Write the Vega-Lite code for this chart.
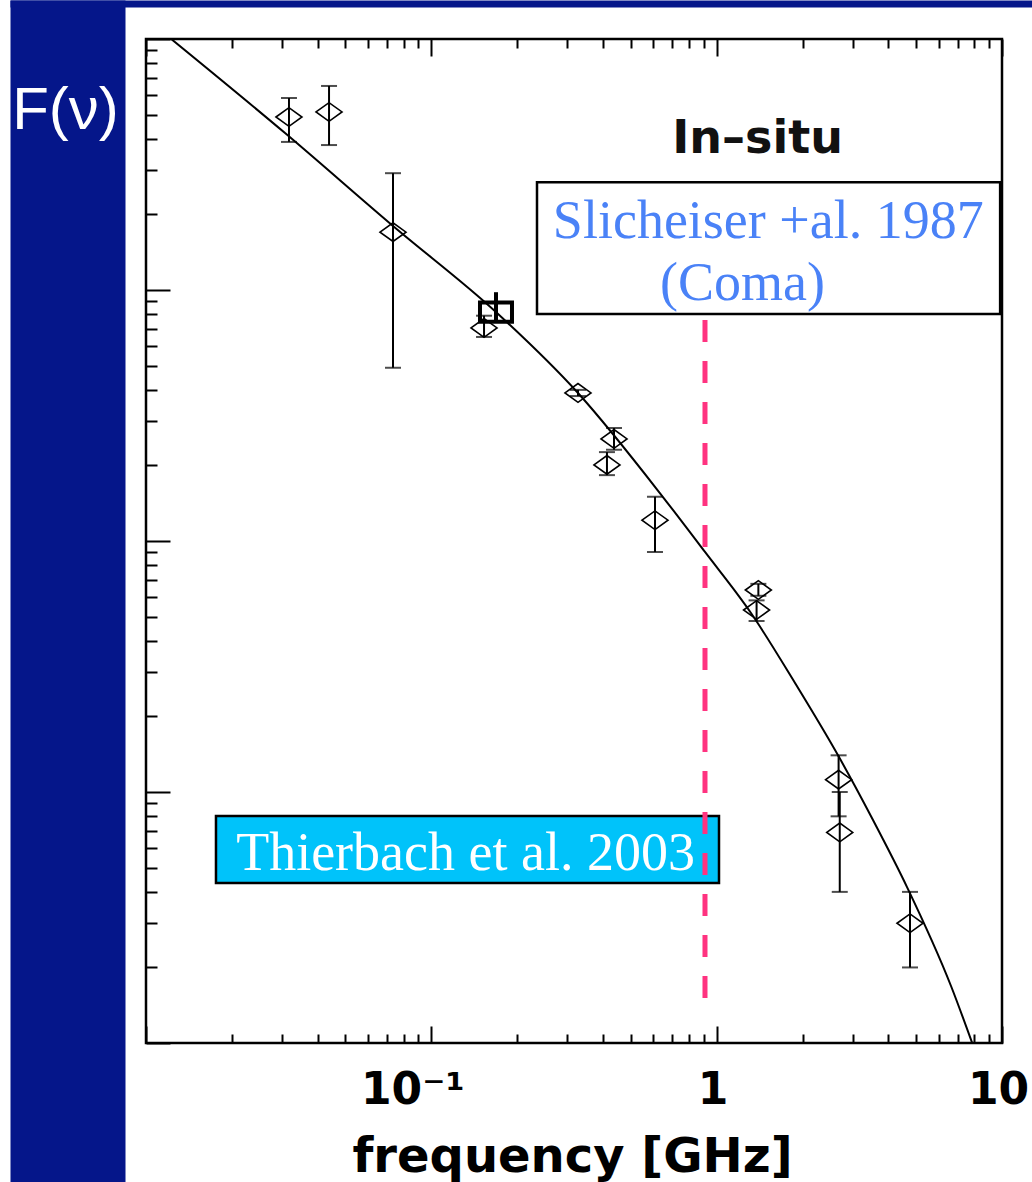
{
  "$schema": "https://vega.github.io/schema/vega-lite/v6.json",
  "width": 856,
  "height": 1004,
  "autosize": {"type": "none"},
  "padding": {"left": 146, "top": 39, "right": 30, "bottom": 139},
  "background": "white",
  "config": {
    "view": {"stroke": "black", "strokeWidth": 2.5},
    "axis": {"grid": false, "domain": false}
  },
  "resolve": {"axis": {"x": "independent", "y": "independent"}},
  "datasets": {
    "curve": [
      {"f": 0.01214, "F": 100.9},
      {"f": 0.03071, "F": 42.2},
      {"f": 0.0734, "F": 17.99},
      {"f": 0.1699, "F": 8.10},
      {"f": 0.3266, "F": 3.887},
      {"f": 0.6483, "F": 1.497},
      {"f": 0.9101, "F": 0.9042},
      {"f": 1.319, "F": 0.5165},
      {"f": 1.882, "F": 0.2718},
      {"f": 2.684, "F": 0.1378},
      {"f": 3.531, "F": 0.0773},
      {"f": 4.647, "F": 0.0418},
      {"f": 6.627, "F": 0.01687},
      {"f": 7.978, "F": 0.00955}
    ],
    "points": [
      {"f": 0.0317, "F": 48.9, "lo": 38.9, "hi": 58.2},
      {"f": 0.0438, "F": 51.2, "lo": 37.8, "hi": 65.0},
      {"f": 0.0734, "F": 17.0, "lo": 4.9, "hi": 29.2},
      {"f": 0.153, "F": 7.06, "lo": 6.5, "hi": 7.9},
      {"f": 0.3266, "F": 3.89, "lo": 3.78, "hi": 4.0},
      {"f": 0.4126, "F": 2.01, "lo": 1.83, "hi": 2.26},
      {"f": 0.4368, "F": 2.55, "lo": 2.31, "hi": 2.82},
      {"f": 0.6079, "F": 1.21, "lo": 0.904, "hi": 1.5},
      {"f": 1.38, "F": 0.531, "lo": 0.48, "hi": 0.58},
      {"f": 1.40, "F": 0.638, "lo": 0.605, "hi": 0.675},
      {"f": 2.675, "F": 0.112, "lo": 0.08, "hi": 0.14},
      {"f": 2.70, "F": 0.069, "lo": 0.04, "hi": 0.10},
      {"f": 4.76, "F": 0.030, "lo": 0.02, "hi": 0.04}
    ],
    "square": [
      {"f": 0.1685, "F": 8.17, "lo": 7.46, "hi": 9.8}
    ],
    "boxes": [
      {"box": "slicheiser", "f1": 0.2346, "f2": 9.85, "Ftop": 26.9, "Fbot": 8.025},
      {"box": "thierbach", "f1": 0.01759, "f2": 1.019, "Ftop": 0.0802, "Fbot": 0.0434}
    ],
    "texts": [
      {"group": "insitu", "label": "In–situ", "f": 1.391, "F": 35.1},
      {"group": "slicheiser", "label": "Slicheiser +al. 1987", "f": 1.517, "F": 16.11},
      {"group": "slicheiser", "label": "(Coma)", "f": 1.231, "F": 9.125},
      {"group": "thierbach", "label": "Thierbach et al. 2003", "f": 0.1318, "F": 0.04889}
    ],
    "cutoff": [
      {"f": 0.9101, "Ftop": 7.6, "Fbot": 0.0138}
    ]
  },
  "layer": [
    {
      "data": {"name": "curve"},
      "mark": {"type": "line", "color": "black", "strokeWidth": 2, "interpolate": "monotone", "clip": true},
      "encoding": {
        "x": {
          "field": "f", "type": "quantitative",
          "scale": {"type": "log", "domain": [0.01, 10], "nice": false},
          "axis": {
            "orient": "bottom", "values": [0.1, 1, 10], "ticks": false, "tickSize": 0,
            "domain": false, "grid": false,
            "labelExpr": "datum.value < 0.5 ? '10⁻¹' : (datum.value < 5 ? '1' : '10')",
            "labelFont": "DejaVu Sans", "labelFontWeight": "bold", "labelFontSize": 44,
            "labelColor": "black", "labelBaseline": "alphabetic", "labelPadding": 60,
            "labelOffset": {"condition": {"test": "datum.value < 0.5", "value": -19}, "value": -4},
            "labelFlush": false, "labelOverlap": false,
            "title": "frequency [GHz]", "titleFont": "DejaVu Sans", "titleFontWeight": "bold",
            "titleFontSize": 48, "titleColor": "black", "titleX": 426, "titleY": 128,
            "titleBaseline": "alphabetic", "titleAlign": "center"
          }
        },
        "y": {
          "field": "F", "type": "quantitative",
          "scale": {"type": "log", "domain": [0.01, 100], "nice": false},
          "axis": {
            "orient": "left", "zindex": 1,
            "values": [0.01,0.02,0.03,0.04,0.05,0.06,0.07,0.08,0.09,0.1,0.2,0.3,0.4,0.5,0.6,0.7,0.8,0.9,1,2,3,4,5,6,7,8,9,10,20,30,40,50,60,70,80,90,100],
            "labels": false, "domain": false, "grid": false, "ticks": true,
            "tickColor": "black", "tickWidth": 2,
            "tickSize": {"condition": {"test": "datum.value == 0.01 || datum.value == 0.1 || datum.value == 1 || datum.value == 10 || datum.value == 100", "value": -24}, "value": -11},
            "title": "F(ν)", "titleFont": "Liberation Sans", "titleFontSize": 60, "titleFontWeight": "normal",
            "titleColor": "white", "titleAngle": 0, "titleX": -81, "titleY": 89,
            "titleAlign": "center", "titleBaseline": "alphabetic"
          }
        }
      }
    },
    {
      "data": {"name": "points"},
      "mark": {"type": "rule", "color": "black", "strokeWidth": 2},
      "encoding": {
        "x": {
          "field": "f", "type": "quantitative",
          "scale": {"type": "log", "domain": [0.01, 10], "nice": false},
          "axis": {
            "orient": "bottom",
            "values": [0.01,0.02,0.03,0.04,0.05,0.06,0.07,0.08,0.09,0.1,0.2,0.3,0.4,0.5,0.6,0.7,0.8,0.9,1,2,3,4,5,6,7,8,9,10],
            "labels": false, "domain": false, "grid": false, "ticks": true,
            "tickColor": "black", "tickWidth": 2,
            "tickSize": {"condition": {"test": "datum.value == 0.01 || datum.value == 0.1 || datum.value == 1 || datum.value == 10", "value": -17}, "value": -9},
            "title": null
          }
        },
        "y": {
          "field": "lo", "type": "quantitative",
          "scale": {"type": "log", "domain": [0.01, 100], "nice": false},
          "axis": {
            "orient": "left", "values": [0.63225], "labels": false, "domain": false, "grid": false,
            "ticks": true, "tickColor": "#05168a", "tickWidth": 1182, "tickSize": 115, "offset": 21,
            "title": null, "zindex": 0
          }
        },
        "y2": {"field": "hi"}
      }
    },
    {
      "data": {"name": "points"},
      "mark": {"type": "tick", "orient": "horizontal", "color": "black", "size": 16, "thickness": 2},
      "encoding": {
        "x": {
          "field": "f", "type": "quantitative",
          "scale": {"type": "log", "domain": [0.01, 10], "nice": false},
          "axis": {
            "orient": "top",
            "values": [0.01,0.02,0.03,0.04,0.05,0.06,0.07,0.08,0.09,0.1,0.2,0.3,0.4,0.5,0.6,0.7,0.8,0.9,1,2,3,4,5,6,7,8,9,10],
            "labels": false, "domain": false, "grid": false, "ticks": true,
            "tickColor": "black", "tickWidth": 2,
            "tickSize": {"condition": {"test": "datum.value == 0.01 || datum.value == 0.1 || datum.value == 1 || datum.value == 10", "value": -17}, "value": -9},
            "title": null
          }
        },
        "y": {
          "field": "lo", "type": "quantitative",
          "scale": {"type": "log", "domain": [0.01, 100], "nice": false},
          "axis": null
        }
      }
    },
    {
      "data": {"name": "points"},
      "mark": {"type": "tick", "orient": "horizontal", "color": "black", "size": 16, "thickness": 2},
      "encoding": {
        "x": {
          "field": "f", "type": "quantitative",
          "scale": {"type": "log", "domain": [0.01, 10], "nice": false},
          "axis": {
            "orient": "top", "values": [0.20614], "labels": false, "domain": false, "grid": false,
            "ticks": true, "tickColor": "#05168a", "tickWidth": 1022, "tickSize": 7, "offset": 32,
            "title": null, "zindex": 0
          }
        },
        "y": {
          "field": "hi", "type": "quantitative",
          "scale": {"type": "log", "domain": [0.01, 100], "nice": false},
          "axis": null
        }
      }
    },
    {
      "data": {"name": "points"},
      "mark": {"type": "point", "shape": "M-1,0L0,-0.72L1,0L0,0.72Z", "size": 676, "filled": false, "stroke": "black", "strokeWidth": 1.6, "opacity": 1},
      "encoding": {
        "x": {"field": "f", "type": "quantitative", "scale": {"type": "log", "domain": [0.01, 10], "nice": false}, "axis": null},
        "y": {"field": "F", "type": "quantitative", "scale": {"type": "log", "domain": [0.01, 100], "nice": false}, "axis": null}
      }
    },
    {
      "data": {"name": "square"},
      "mark": {"type": "rule", "color": "black", "strokeWidth": 4},
      "encoding": {
        "x": {"field": "f", "type": "quantitative", "scale": {"type": "log", "domain": [0.01, 10], "nice": false}, "axis": null},
        "y": {"field": "lo", "type": "quantitative", "scale": {"type": "log", "domain": [0.01, 100], "nice": false}, "axis": null},
        "y2": {"field": "hi"}
      }
    },
    {
      "data": {"name": "square"},
      "mark": {"type": "point", "shape": "M-1,-0.6L1,-0.6L1,0.6L-1,0.6Z", "size": 1024, "filled": false, "stroke": "black", "strokeWidth": 4, "opacity": 1},
      "encoding": {
        "x": {"field": "f", "type": "quantitative", "scale": {"type": "log", "domain": [0.01, 10], "nice": false}, "axis": null},
        "y": {"field": "F", "type": "quantitative", "scale": {"type": "log", "domain": [0.01, 100], "nice": false}, "axis": null}
      }
    },
    {
      "data": {"name": "boxes"},
      "transform": [{"filter": "datum.box == 'thierbach'"}],
      "mark": {"type": "rect", "fill": "#00c3fa", "stroke": "black", "strokeWidth": 2.5},
      "encoding": {
        "x": {"field": "f1", "type": "quantitative", "scale": {"type": "log", "domain": [0.01, 10], "nice": false}, "axis": null},
        "x2": {"field": "f2"},
        "y": {"field": "Ftop", "type": "quantitative", "scale": {"type": "log", "domain": [0.01, 100], "nice": false}, "axis": null},
        "y2": {"field": "Fbot"}
      }
    },
    {
      "data": {"name": "texts"},
      "transform": [{"filter": "datum.group == 'thierbach'"}],
      "mark": {"type": "text", "font": "Liberation Serif", "fontSize": 54, "color": "white", "align": "center", "baseline": "alphabetic"},
      "encoding": {
        "x": {"field": "f", "type": "quantitative", "scale": {"type": "log", "domain": [0.01, 10], "nice": false}, "axis": null},
        "y": {"field": "F", "type": "quantitative", "scale": {"type": "log", "domain": [0.01, 100], "nice": false}, "axis": null},
        "text": {"field": "label"}
      }
    },
    {
      "data": {"name": "cutoff"},
      "mark": {"type": "rule", "color": "#ff3380", "strokeWidth": 5, "strokeDash": [22, 19]},
      "encoding": {
        "x": {"field": "f", "type": "quantitative", "scale": {"type": "log", "domain": [0.01, 10], "nice": false}, "axis": null},
        "y": {"field": "Ftop", "type": "quantitative", "scale": {"type": "log", "domain": [0.01, 100], "nice": false}, "axis": null},
        "y2": {"field": "Fbot"}
      }
    },
    {
      "data": {"name": "boxes"},
      "transform": [{"filter": "datum.box == 'slicheiser'"}],
      "mark": {"type": "rect", "fill": "white", "stroke": "black", "strokeWidth": 2.5},
      "encoding": {
        "x": {"field": "f1", "type": "quantitative", "scale": {"type": "log", "domain": [0.01, 10], "nice": false}, "axis": null},
        "x2": {"field": "f2"},
        "y": {"field": "Ftop", "type": "quantitative", "scale": {"type": "log", "domain": [0.01, 100], "nice": false}, "axis": null},
        "y2": {"field": "Fbot"}
      }
    },
    {
      "data": {"name": "texts"},
      "transform": [{"filter": "datum.group == 'slicheiser'"}],
      "mark": {"type": "text", "font": "Liberation Serif", "fontSize": 54, "color": "#4a82f7", "align": "center", "baseline": "alphabetic"},
      "encoding": {
        "x": {"field": "f", "type": "quantitative", "scale": {"type": "log", "domain": [0.01, 10], "nice": false}, "axis": null},
        "y": {"field": "F", "type": "quantitative", "scale": {"type": "log", "domain": [0.01, 100], "nice": false}, "axis": null},
        "text": {"field": "label"}
      }
    },
    {
      "data": {"name": "texts"},
      "transform": [{"filter": "datum.group == 'insitu'"}],
      "mark": {"type": "text", "font": "DejaVu Sans", "fontWeight": "bold", "fontSize": 46, "color": "#111111", "align": "center", "baseline": "alphabetic"},
      "encoding": {
        "x": {"field": "f", "type": "quantitative", "scale": {"type": "log", "domain": [0.01, 10], "nice": false}, "axis": null},
        "y": {"field": "F", "type": "quantitative", "scale": {"type": "log", "domain": [0.01, 100], "nice": false}, "axis": null},
        "text": {"field": "label"}
      }
    }
  ]
}
